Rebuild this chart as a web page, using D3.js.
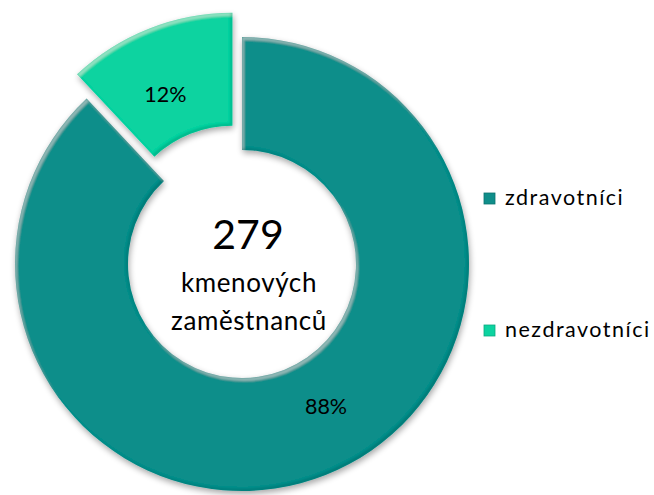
<!DOCTYPE html>
<html>
<head>
<meta charset="utf-8">
<script src="https://cdn.jsdelivr.net/npm/d3@7/dist/d3.min.js"></script>
<style>
  html, body { margin: 0; padding: 0; background: #fff; }
  svg { display: block; font-family: Lato, "Open Sans", sans-serif; }
</style>
</head>
<body>
<svg id="chart" width="654" height="495"></svg>
<script>
const categories = ["zdravotníci", "nezdravotníci"];
const values = [88, 12];
const labels = ["88%", "12%"];
const colors = ["#0f8e8a", "#0cd3a0"];
const explode = [0, 26];
const centerNumber = "279";
const centerLines = ["kmenových", "zaměstnanců"];

const svg = d3.select("#chart");
const cx = 242, cy = 264, rOuter = 227, rInner = 114;

const defs = svg.append("defs");
const f = defs.append("filter").attr("id", "bevel").attr("x", "-20%").attr("y", "-20%").attr("width", "140%").attr("height", "140%");
// drop shadow
f.append("feGaussianBlur").attr("in", "SourceAlpha").attr("stdDeviation", 3).attr("result", "b");
f.append("feOffset").attr("in", "b").attr("dx", 1).attr("dy", 3).attr("result", "o");
f.append("feComponentTransfer").attr("in", "o").attr("result", "s")
  .append("feFuncA").attr("type", "linear").attr("slope", 0.35);
// top-left highlight rim
f.append("feOffset").attr("in", "SourceAlpha").attr("dx", 2).attr("dy", 2.5).attr("result", "sa1");
f.append("feComposite").attr("in", "SourceAlpha").attr("in2", "sa1").attr("operator", "out").attr("result", "rim1");
f.append("feGaussianBlur").attr("in", "rim1").attr("stdDeviation", 1).attr("result", "rim1b");
f.append("feFlood").attr("flood-color", "#ffffff").attr("flood-opacity", 0.3).attr("result", "wf");
f.append("feComposite").attr("in", "wf").attr("in2", "rim1b").attr("operator", "in").attr("result", "hl0");
f.append("feComposite").attr("in", "hl0").attr("in2", "SourceAlpha").attr("operator", "in").attr("result", "hl");
// bottom-right dark rim
f.append("feOffset").attr("in", "SourceAlpha").attr("dx", -2).attr("dy", -2.5).attr("result", "sa2");
f.append("feComposite").attr("in", "SourceAlpha").attr("in2", "sa2").attr("operator", "out").attr("result", "rim2");
f.append("feGaussianBlur").attr("in", "rim2").attr("stdDeviation", 1.2).attr("result", "rim2b");
f.append("feFlood").attr("flood-color", "#000000").attr("flood-opacity", 0.3).attr("result", "bf");
f.append("feComposite").attr("in", "bf").attr("in2", "rim2b").attr("operator", "in").attr("result", "dk0");
f.append("feComposite").attr("in", "dk0").attr("in2", "SourceAlpha").attr("operator", "in").attr("result", "dk");
const m = f.append("feMerge");
m.append("feMergeNode").attr("in", "s");
m.append("feMergeNode").attr("in", "SourceGraphic");
m.append("feMergeNode").attr("in", "hl");
m.append("feMergeNode").attr("in", "dk");

const pie = d3.pie().sort(null).value(d => d)(values);
const arc = d3.arc().innerRadius(rInner).outerRadius(rOuter);

const g = svg.append("g").attr("transform", `translate(${cx},${cy})`);

const slices = g.selectAll("g.slice").data(pie).enter().append("g")
  .attr("class", "slice")
  .attr("transform", (d, i) => {
    const a = (d.startAngle + d.endAngle) / 2;
    return `translate(${Math.sin(a) * explode[i]},${-Math.cos(a) * explode[i]})`;
  });

slices.append("path")
  .attr("d", arc)
  .attr("fill", (d, i) => colors[i])
  .attr("filter", "url(#bevel)");

const labelPos = [[84, 150], [-67, -138]];
slices.append("text")
  .attr("x", (d, i) => labelPos[i][0])
  .attr("y", (d, i) => labelPos[i][1])
  .attr("text-anchor", "middle")
  .attr("font-size", 21.5)
  .attr("fill", "#000")
  .text((d, i) => labels[i]);

// center text
const ct = svg.append("g");
ct.append("text").attr("x", 248).attr("y", 249).attr("text-anchor", "middle")
  .attr("font-size", 41).attr("fill", "#000").text(centerNumber);
centerLines.forEach((t, i) => {
  ct.append("text").attr("x", 249).attr("y", 292 + i * 38).attr("text-anchor", "middle")
    .attr("font-size", 26).attr("letter-spacing", 0.6).attr("fill", "#000").text(t);
});

// legend
const legend = svg.append("g");
const legendY = [198.5, 330.5];
categories.forEach((c, i) => {
  const lg = legend.append("g").attr("transform", `translate(484,${legendY[i]})`);
  lg.append("rect").attr("x", 0).attr("y", -5.5).attr("width", 11).attr("height", 11)
    .attr("fill", colors[i]).attr("stroke", d3.color(colors[i]).darker(0.6)).attr("stroke-width", 0.8);
  lg.append("text").attr("x", 21).attr("y", 6.5).attr("font-size", 21.5).attr("letter-spacing", 1.5)
    .attr("fill", "#000").text(c);
});
</script>
</body>
</html>
